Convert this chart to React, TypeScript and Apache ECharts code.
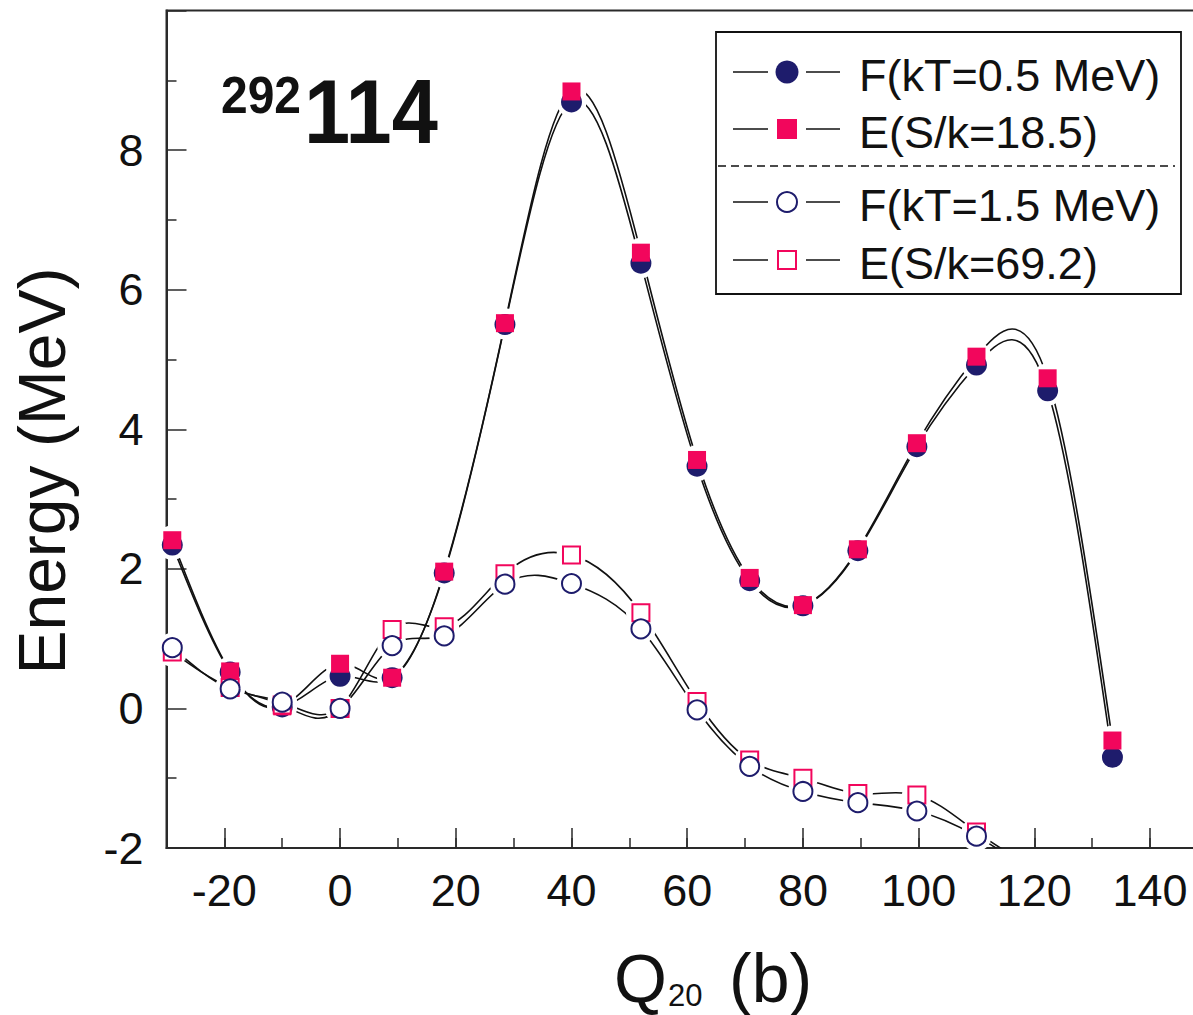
import React, { useEffect, useRef } from 'react';
import * as echarts from 'echarts';

// ---------- data ----------
const Q20_COLD = [-29, -19, -10, 0, 9, 18, 28.5, 40, 52, 61.7, 70.8, 80, 89.5, 99.7, 110, 122.3, 133.5];
const F_KT05 = [2.34, 0.52, 0.02, 0.46, 0.44, 1.94, 5.5, 8.69, 6.38, 3.47, 1.83, 1.47, 2.26, 3.75, 4.92, 4.55, -0.7];
const E_S185 = [2.41, 0.53, 0.03, 0.64, 0.44, 1.96, 5.52, 8.84, 6.53, 3.56, 1.87, 1.48, 2.28, 3.8, 5.04, 4.73, -0.46];

const Q20_HOT = [-29, -19, -10, 0, 9, 18, 28.5, 40, 52, 61.7, 70.8, 80, 89.5, 99.7, 110, 122.3];
const F_KT15 = [0.87, 0.28, 0.09, 0.0, 0.9, 1.04, 1.78, 1.79, 1.14, -0.02, -0.83, -1.19, -1.35, -1.47, -1.83, -2.5];
const E_S692 = [0.81, 0.3, 0.05, 0.0, 1.13, 1.17, 1.93, 2.2, 1.37, 0.1, -0.74, -1.0, -1.22, -1.24, -1.77, -2.4];

const X_TICK_LABELS = [-20, 0, 20, 40, 60, 80, 100, 120, 140];
const LEGEND_LABELS = ['F(kT=0.5 MeV)', 'E(S/k=18.5)', 'F(kT=1.5 MeV)', 'E(S/k=69.2)'];

const NAVY = '#1e1c6c';
const PINK = '#f2065c';
const INK = '#111111';
const AXIS = '#2a2a2a';
const FONT = '"Liberation Sans", Arial, Helvetica, sans-serif';

const zip = (xs: number[], ys: number[]) => xs.map((x, i) => [x, ys[i]]);

// natural cubic spline: slopes at each knot (used only to shape the connecting curve)
function splineSlopes(xs: number[], ys: number[]): number[] {
  const n = xs.length;
  const h: number[] = [];
  for (let i = 0; i < n - 1; i++) h.push(xs[i + 1] - xs[i]);
  const M = new Array(n).fill(0);
  if (n > 2) {
    const a: number[] = [], b: number[] = [], c: number[] = [], d: number[] = [];
    for (let i = 1; i < n - 1; i++) {
      a.push(h[i - 1]);
      b.push(2 * (h[i - 1] + h[i]));
      c.push(h[i]);
      d.push(6 * ((ys[i + 1] - ys[i]) / h[i] - (ys[i] - ys[i - 1]) / h[i - 1]));
    }
    const m = b.length;
    for (let i = 1; i < m; i++) {
      const w = a[i] / b[i - 1];
      b[i] -= w * c[i - 1];
      d[i] -= w * d[i - 1];
    }
    const sol = new Array(m).fill(0);
    sol[m - 1] = d[m - 1] / b[m - 1];
    for (let i = m - 2; i >= 0; i--) sol[i] = (d[i] - c[i] * sol[i + 1]) / b[i];
    for (let i = 0; i < m; i++) M[i + 1] = sol[i];
  }
  const slopes: number[] = [];
  for (let i = 0; i < n; i++) {
    if (i < n - 1) {
      slopes.push((ys[i + 1] - ys[i]) / h[i] - (h[i] * (2 * M[i] + M[i + 1])) / 6);
    } else {
      const j = n - 2;
      slopes.push((ys[j + 1] - ys[j]) / h[j] + (h[j] * (M[j] + 2 * M[j + 1])) / 6);
    }
  }
  return slopes;
}

type Spec = {
  name: string;
  xs: number[];
  ys: number[];
  symbol: string;
  size: number;
  filled: boolean;
  color: string;
};

const SPECS: Spec[] = [
  { name: LEGEND_LABELS[0], xs: Q20_COLD, ys: F_KT05, symbol: 'circle', size: 21, filled: true, color: NAVY },
  { name: LEGEND_LABELS[1], xs: Q20_COLD, ys: E_S185, symbol: 'rect', size: 18, filled: true, color: PINK },
  { name: LEGEND_LABELS[3], xs: Q20_HOT, ys: E_S692, symbol: 'rect', size: 17, filled: false, color: PINK },
  { name: LEGEND_LABELS[2], xs: Q20_HOT, ys: F_KT15, symbol: 'circle', size: 19, filled: false, color: NAVY },
];

function buildLegend(): any[] {
  const els: any[] = [];
  const boxL = 716, boxT = 32, boxR = 1181, boxB = 294;
  els.push({
    type: 'rect',
    shape: { x: boxL, y: boxT, width: boxR - boxL, height: boxB - boxT },
    style: { fill: '#fff', stroke: INK, lineWidth: 1.8 },
    z: 100,
  });
  els.push({
    type: 'line',
    shape: { x1: boxL + 2, y1: 166, x2: boxR - 6, y2: 166 },
    style: { stroke: INK, lineWidth: 1.3, lineDash: [8, 5] },
    z: 101,
  });
  const rows = [
    { y: 72, label: LEGEND_LABELS[0], kind: 'circle', filled: true, color: NAVY },
    { y: 129, label: LEGEND_LABELS[1], kind: 'rect', filled: true, color: PINK },
    { y: 202, label: LEGEND_LABELS[2], kind: 'circle', filled: false, color: NAVY },
    { y: 260, label: LEGEND_LABELS[3], kind: 'rect', filled: false, color: PINK },
  ];
  rows.forEach((r) => {
    els.push({ type: 'line', shape: { x1: 733, y1: r.y, x2: 768, y2: r.y }, style: { stroke: INK, lineWidth: 1.5 }, z: 101 });
    els.push({ type: 'line', shape: { x1: 806, y1: r.y, x2: 840, y2: r.y }, style: { stroke: INK, lineWidth: 1.5 }, z: 101 });
    if (r.kind === 'circle') {
      els.push({
        type: 'circle',
        shape: { cx: 787, cy: r.y, r: r.filled ? 11.5 : 10 },
        style: r.filled ? { fill: r.color } : { fill: '#fff', stroke: r.color, lineWidth: 2 },
        z: 102,
      });
    } else {
      const s = r.filled ? 20 : 18;
      els.push({
        type: 'rect',
        shape: { x: 787 - s / 2, y: r.y - s / 2, width: s, height: s },
        style: r.filled ? { fill: r.color } : { fill: '#fff', stroke: r.color, lineWidth: 2 },
        z: 102,
      });
    }
    els.push({
      type: 'text',
      x: 859,
      y: r.y + 3,
      style: {
        text: r.label,
        fontSize: 45,
        fontFamily: FONT,
        fill: INK,
        align: 'left',
        verticalAlign: 'middle',
        textAlign: 'left',
        textVerticalAlign: 'middle',
      },
      z: 102,
    });
  });
  return els;
}

function buildTexts(): any[] {
  const txt = (x: number, y: number, text: string, size: number, extra: any = {}, styleExtra: any = {}) => ({
    type: 'text',
    x,
    y,
    ...extra,
    style: {
      text,
      fontSize: size,
      fontFamily: FONT,
      fill: INK,
      align: 'left',
      verticalAlign: 'middle',
      textAlign: 'left',
      textVerticalAlign: 'middle',
      ...styleExtra,
    },
    z: 90,
  });
  return [
    txt(221, 95, '292', 48, { scaleY: 1.08 }, { fontWeight: 'bold' }),
    txt(304, 111, '114', 83, { scaleY: 1.1 }, { fontWeight: 'bold' }),
    txt(614, 978, 'Q', 68),
    txt(668, 995, '20', 31),
    txt(729, 978, '(b)', 68),
    txt(42, 471, 'Energy (MeV)', 66, { rotation: Math.PI / 2 }, { align: 'center', textAlign: 'center' }),
  ];
}

export default function App() {
  const ref = useRef<HTMLDivElement>(null);

  useEffect(() => {
    if (!ref.current) return;
    const chart = echarts.init(ref.current, undefined, { renderer: 'svg' });

    const curveSeries = SPECS.map((s) => {
      const slopes = splineSlopes(s.xs, s.ys);
      return {
        type: 'custom',
        name: s.name + ' curve',
        data: s.xs.slice(0, -1).map((x, i) => [x, s.ys[i]]),
        encode: { x: 0, y: 1 },
        clip: true,
        silent: true,
        z: 2,
        renderItem: (params: any, api: any) => {
          const i = params.dataIndex;
          const x0 = s.xs[i], x1 = s.xs[i + 1];
          const y0 = s.ys[i], y1 = s.ys[i + 1];
          const h = x1 - x0;
          const p0 = api.coord([x0, y0]);
          const c1 = api.coord([x0 + h / 3, y0 + (slopes[i] * h) / 3]);
          const c2 = api.coord([x1 - h / 3, y1 - (slopes[i + 1] * h) / 3]);
          const p1 = api.coord([x1, y1]);
          return {
            type: 'bezierCurve',
            shape: {
              x1: p0[0], y1: p0[1], x2: p1[0], y2: p1[1],
              cpx1: c1[0], cpy1: c1[1], cpx2: c2[0], cpy2: c2[1],
            },
            style: { stroke: INK, lineWidth: 1.6, fill: 'none' },
          };
        },
      };
    });

    const haloSeries = SPECS.map((s) => ({
      type: 'scatter',
      name: s.name + ' gap',
      data: zip(s.xs, s.ys),
      symbol: 'circle',
      symbolSize: 30,
      clip: true,
      silent: true,
      z: 3,
      itemStyle: { color: '#ffffff', opacity: 1 },
    }));

    const markerSeries = SPECS.map((s, i) => ({
      type: 'scatter',
      name: s.name,
      data: zip(s.xs, s.ys),
      symbol: s.symbol,
      symbolSize: s.size,
      clip: true,
      silent: true,
      z: 4 + i,
      itemStyle: s.filled
        ? { color: s.color, opacity: 1 }
        : { color: '#ffffff', borderColor: s.color, borderWidth: 2, opacity: 1 },
    }));

    chart.setOption({
      animation: false,
      backgroundColor: '#ffffff',
      grid: {
        left: 166.5,
        top: 10.5,
        width: 1041.4,
        height: 837.5,
        show: true,
        borderColor: AXIS,
        borderWidth: 2,
        backgroundColor: 'transparent',
        containLabel: false,
      },
      xAxis: [
        {
          type: 'value',
          min: -30,
          max: 150,
          interval: 10,
          position: 'bottom',
          axisLine: { show: true, onZero: false, lineStyle: { color: AXIS, width: 2 } },
          axisTick: { show: true, inside: true, length: 10, lineStyle: { color: AXIS, width: 1.5 } },
          axisLabel: {
            show: true,
            customValues: X_TICK_LABELS,
            fontSize: 45,
            fontFamily: FONT,
            color: INK,
            margin: 20,
          },
          splitLine: { show: false },
        },
        {
          type: 'value',
          min: -30,
          max: 150,
          position: 'bottom',
          axisLine: { show: false, onZero: false },
          axisTick: { show: true, inside: true, length: 20, customValues: X_TICK_LABELS, lineStyle: { color: AXIS, width: 1.5 } },
          axisLabel: { show: false },
          splitLine: { show: false },
        },
      ],
      yAxis: {
        type: 'value',
        min: -2,
        max: 10,
        interval: 2,
        axisLine: { show: true, onZero: false, lineStyle: { color: AXIS, width: 2 } },
        axisTick: { show: true, inside: true, length: 20, lineStyle: { color: AXIS, width: 1.5 } },
        minorTick: { show: true, splitNumber: 2, length: 10, lineStyle: { color: AXIS, width: 1.5 } },
        axisLabel: {
          fontSize: 45,
          fontFamily: FONT,
          color: INK,
          margin: 23,
          showMaxLabel: false,
        },
        splitLine: { show: false },
        minorSplitLine: { show: false },
      },
      graphic: { elements: [...buildTexts(), ...buildLegend()] },
      series: [...curveSeries, ...haloSeries, ...markerSeries],
    });

    return () => chart.dispose();
  }, []);

  return (
    <div
      ref={ref}
      style={{ position: 'fixed', left: 0, top: 0, width: 1240, height: 1015, background: '#fff' }}
    />
  );
}
